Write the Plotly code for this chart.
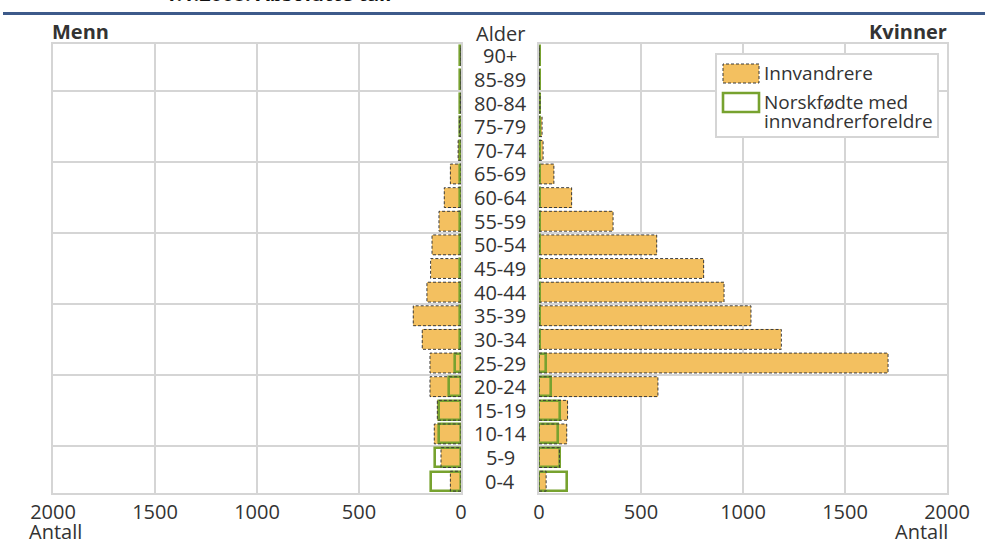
import plotly.graph_objects as go

ages = ["0-4", "5-9", "10-14", "15-19", "20-24", "25-29", "30-34", "35-39", "40-44",
        "45-49", "50-54", "55-59", "60-64", "65-69", "70-74", "75-79", "80-84", "85-89", "90+"]
men_innv = [52, 98, 131, 116, 152, 152, 190, 234, 167, 149, 142, 108, 82, 52, 14, 8, 3, 1, 1]
men_norsk = [145, 127, 106, 108, 58, 28, 6, 4, 4, 3, 3, 3, 3, 3, 3, 3, 3, 3, 3]
women_innv = [35, 100, 136, 140, 583, 1711, 1188, 1039, 907, 807, 577, 363, 160, 73, 20, 15, 5, 2, 1]
women_norsk = [137, 105, 92, 105, 60, 33, 6, 4, 4, 3, 3, 3, 3, 3, 3, 3, 3, 3, 3]
x_ticks = [0, 500, 1000, 1500, 2000]

title = "1.1.2008. Absolutte tall"
ORANGE = "#F3C060"
GREEN = "#77A22F"
GRID = "#D5D5D5"
TXT = "#333333"
FONT = "Open Sans"
FS = 20
FSL = 19

W, H = 985, 545
ML, MR, MT, MB = 53, 38, 44, 52
PW, PH = W - ML - MR, H - MT - MB


def px(x):
    return (x - ML) / PW


def py(y):
    return 1 - (y - MT) / PH


ypos = list(range(len(ages)))
OW = 0.84
GW = 0.80


def outline(vals, w):
    xs, ys = [], []
    for i, v in zip(ypos, vals):
        xs += [0, v, v, 0, 0, None]
        ys += [i - w / 2, i - w / 2, i + w / 2, i + w / 2, i - w / 2, None]
    return xs, ys


fig = go.Figure()
for side, (innv, norsk) in {"": (men_innv, men_norsk), "2": (women_innv, women_norsk)}.items():
    xa, ya = "x" + side, "y" + side
    fig.add_trace(go.Bar(x=innv, y=ypos, orientation="h", width=OW, xaxis=xa, yaxis=ya,
                         marker=dict(color=ORANGE, line=dict(width=0)), name="Innvandrere",
                         showlegend=False))
    ox, oy = outline(innv, OW)
    fig.add_trace(go.Scatter(x=ox, y=oy, mode="lines", xaxis=xa, yaxis=ya,
                             line=dict(color="#3a3a3a", width=1, dash="3px,2px"),
                             showlegend=False, hoverinfo="skip"))
    fig.add_trace(go.Bar(x=norsk, y=ypos, orientation="h", width=GW, xaxis=xa, yaxis=ya,
                         marker=dict(color="rgba(0,0,0,0)", line=dict(color=GREEN, width=2.6)),
                         name="Norskfødte med innvandrerforeldre", showlegend=False))

axis_common = dict(showgrid=True, gridcolor=GRID, gridwidth=2, showline=True, mirror=True,
                   linecolor=GRID, linewidth=2, zeroline=False)

fig.update_layout(
    width=W, height=H, margin=dict(l=ML, r=MR, t=MT, b=MB),
    paper_bgcolor="white", plot_bgcolor="white", barmode="overlay", bargap=0,
    font=dict(family=FONT, size=FS, color=TXT),
    xaxis=dict(domain=[0, px(461)], range=[2000, 0], tickvals=x_ticks,
               tickfont=dict(size=FS, color=TXT), ticks="", **axis_common),
    xaxis2=dict(domain=[px(539), 1], range=[0, 2000], tickvals=x_ticks, anchor="y2",
                tickfont=dict(size=FS, color=TXT), ticks="", **axis_common),
    yaxis=dict(range=[-0.5, 18.5], tickmode="linear", tick0=1.5, dtick=3,
               showticklabels=False, ticks="", anchor="x", **axis_common),
    yaxis2=dict(range=[-0.5, 18.5], tickmode="linear", tick0=1.5, dtick=3,
                showticklabels=False, ticks="", anchor="x2", matches="y", **axis_common),
    showlegend=False,
)

ann = []
for i, a in zip(ypos, ages):
    ann.append(dict(x=0.5, xref="paper", y=i, yref="y", text=a, showarrow=False,
                    xanchor="center", yanchor="middle", font=dict(size=FS, color=TXT)))
ann += [
    dict(x=0.5, y=py(33), text="Alder", xanchor="center", font=dict(size=FS, color=TXT)),
    dict(x=px(50), y=py(31), text="<b>Menn</b>", xanchor="left", font=dict(size=FS, color=TXT)),
    dict(x=px(949), y=py(31), text="<b>Kvinner</b>", xanchor="right", font=dict(size=FS, color=TXT)),
    dict(x=px(27), y=py(531), text="Antall", xanchor="left", font=dict(size=FS, color=TXT)),
    dict(x=px(950), y=py(531), text="Antall", xanchor="right", font=dict(size=FS, color=TXT)),
    dict(x=px(278), y=py(-6), text="<b>" + title + "</b>", xanchor="center",
         font=dict(size=FS, color="#111111")),
    dict(x=px(762), y=py(73.5), text="Innvandrere", xanchor="left", font=dict(size=FSL, color=TXT)),
    dict(x=px(762), y=py(102), text="Norskfødte med", xanchor="left", font=dict(size=FSL, color=TXT)),
    dict(x=px(762), y=py(121), text="innvandrerforeldre", xanchor="left", font=dict(size=FSL, color=TXT)),
]
for a in ann[len(ages):]:
    a.update(xref="paper", yref="paper", showarrow=False, yanchor="middle")
fig.update_layout(annotations=ann)

shapes = [
    dict(type="line", xref="paper", yref="paper", x0=px(3), x1=px(985), y0=py(13.5), y1=py(13.5),
         line=dict(color="#3D5A8A", width=3)),
    dict(type="rect", xref="paper", yref="paper", x0=px(716), x1=px(938), y0=py(137), y1=py(54),
         fillcolor="white", line=dict(color=GRID, width=2)),
    dict(type="rect", xref="paper", yref="paper", x0=px(723), x1=px(759), y0=py(83), y1=py(64),
         fillcolor=ORANGE, line=dict(color="#3a3a3a", width=1, dash="3px,2px")),
    dict(type="rect", xref="paper", yref="paper", x0=px(723), x1=px(759), y0=py(112), y1=py(93),
         fillcolor="white", line=dict(color=GREEN, width=2.6)),
]
fig.update_layout(shapes=shapes)

fig.write_html("out.html", config={"displayModeBar": False},
               post_script="document.body.style.margin='0px';document.body.style.overflow='hidden';")
